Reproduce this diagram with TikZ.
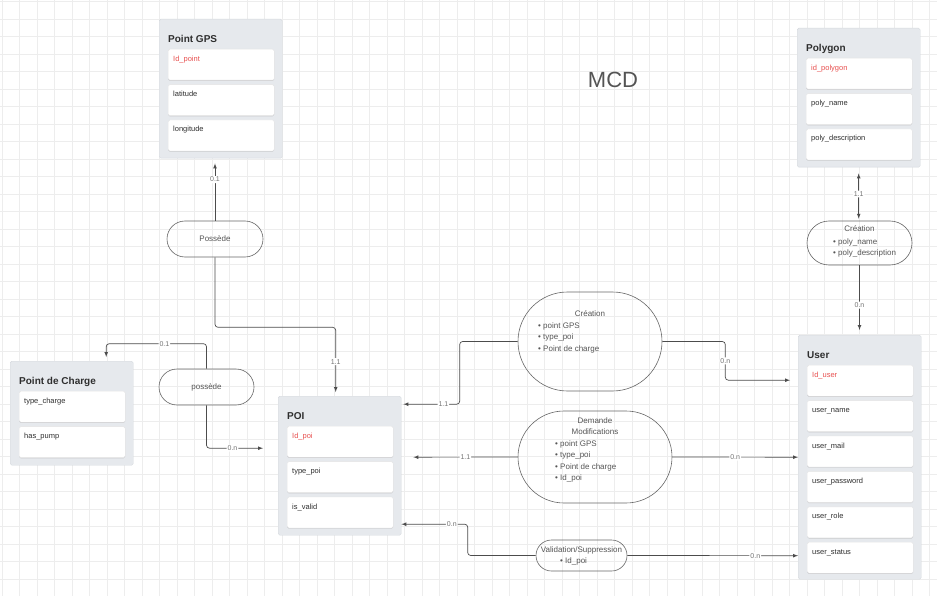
\documentclass[tikz,border=0pt]{standalone}
\usepackage{fontspec}
\setmainfont{Liberation Sans}
\usetikzlibrary{positioning,shapes,arrows,shadows}

\definecolor{entfill}{HTML}{E6E9ED}
\definecolor{entline}{HTML}{D5D9DE}
\definecolor{idred}{HTML}{E8504F}
\definecolor{txtgray}{HTML}{2E2E2E}
\definecolor{relgray}{HTML}{555555}
\definecolor{gridgray}{HTML}{EDEDED}

\begin{document}
\begin{tikzpicture}[x=1pt, y=-1pt,
    entity/.style={
      draw=entline, fill=entfill, rounded corners=0.3ex, inner sep=0pt,
      minimum width=123pt, anchor=north west
    },
    etitle/.style={anchor=base west, inner sep=0pt, text=txtgray,
      font=\fontsize{10}{12}\selectfont\bfseries},
    attr/.style={
      draw=black!10, fill=white, rounded corners=0.3ex, align=left,
      drop shadow={shadow xshift=0pt, shadow yshift=-0.7pt, opacity=0.3, fill=black!50},
      text width=96pt, inner xsep=5pt, inner ysep=6.5pt, text height=5.5pt, text depth=12.5pt,
      text=txtgray, font=\fontsize{7.5}{9}\selectfont
    },
    key/.style={attr, text=idred},
    relation/.style={draw=black!60, line width=0.6pt, inner sep=0pt, text=relgray,
      font=\fontsize{8}{11.5}\selectfont},
    rtext/.style={inner sep=0pt, anchor=base, text=relgray, font=\fontsize{8}{11.5}\selectfont},
    rlist/.style={rtext, anchor=base west},
    lbl/.style={fill=white, inner sep=1pt, text=black!55, font=\fontsize{7}{8}\selectfont},
    link/.style={draw=black!70, line width=0.7pt, rounded corners=3pt},
    gridline/.style={draw=gridgray, line width=1.2pt},
  ]
    % page and grid
    \useasboundingbox (0,0) rectangle (937,596);
    \fill[white] (0,0) rectangle (937,596);
    \foreach \i in {0,...,53} \draw[gridline] ({2.3+17.5*\i},0) -- ++(0,596);
    \foreach \j in {0,...,33} \draw[gridline] (0,{1.7+17.5*\j}) -- ++(937,0);

    \node[font=\fontsize{22}{26}\selectfont, text=black!67] (mcd) at (613,80) {MCD};

    % entities
    \node[entity, minimum height=139pt] (gps) at (159,19) {};
    \node[etitle] (gps_title) at ([shift={(9pt,-23.6pt)}]gps.north west) {Point GPS};
    \node[key, anchor=north west] (gps_id) at ([shift={(9pt,-30pt)}]gps.north west) {Id\_point};
    \node[attr, below=4pt of gps_id] (gps_lat) {latitude};
    \node[attr, below=4pt of gps_lat] (gps_lon) {longitude};

    \node[entity, minimum height=139pt] (poly) at (797,28) {};
    \node[etitle] (poly_title) at ([shift={(9pt,-23.6pt)}]poly.north west) {Polygon};
    \node[key, anchor=north west] (poly_id) at ([shift={(9pt,-30pt)}]poly.north west) {id\_polygon};
    \node[attr, below=4pt of poly_id] (poly_name) {poly\_name};
    \node[attr, below=4pt of poly_name] (poly_desc) {poly\_description};

    \node[entity, minimum height=104pt] (pdc) at (10,361) {};
    \node[etitle] (pdc_title) at ([shift={(9pt,-23.6pt)}]pdc.north west) {Point de Charge};
    \node[attr, anchor=north west] (pdc_type) at ([shift={(9pt,-30pt)}]pdc.north west) {type\_charge};
    \node[attr, below=4pt of pdc_type] (pdc_pump) {has\_pump};

    \node[entity, minimum height=139pt] (poi) at (278,396) {};
    \node[etitle] (poi_title) at ([shift={(9pt,-23.6pt)}]poi.north west) {POI};
    \node[key, anchor=north west] (poi_id) at ([shift={(9pt,-30pt)}]poi.north west) {Id\_poi};
    \node[attr, below=4pt of poi_id] (poi_type) {type\_poi};
    \node[attr, below=4pt of poi_type] (poi_valid) {is\_valid};

    \node[entity, minimum height=244pt] (user) at (798,335) {};
    \node[etitle] (user_title) at ([shift={(9pt,-23.6pt)}]user.north west) {User};
    \node[key, anchor=north west] (user_id) at ([shift={(9pt,-30pt)}]user.north west) {Id\_user};
    \node[attr, below=4pt of user_id] (user_name) {user\_name};
    \node[attr, below=4pt of user_name] (user_mail) {user\_mail};
    \node[attr, below=4pt of user_mail] (user_pass) {user\_password};
    \node[attr, below=4pt of user_pass] (user_role) {user\_role};
    \node[attr, below=4pt of user_role] (user_status) {user\_status};

    % relations
    \node[relation, minimum width=96pt, minimum height=36pt, rounded corners=18pt] (possede_gps) at (215,239) {Possède};
    \node[relation, minimum width=95pt, minimum height=36pt, rounded corners=18pt] (possede_pdc) at (206.5,387) {possède};

    \node[relation, minimum width=144pt, minimum height=99pt, rounded corners=49.5pt] (cre_poi) at (590,341.5) {};
    \node[rtext] (cre_poi_title) at (590,316) {Création};
    \node[rlist] (cre_poi_list) at (538,328) {%
      \begin{tabular}[t]{@{}l@{}}• point GPS\\ • type\_poi\\ • Point de charge\end{tabular}};

    \node[relation, minimum width=154pt, minimum height=92pt, rounded corners=46pt] (dem_poi) at (595,457) {};
    \node[rtext] (dem_poi_title) at (595,423) {%
      \begin{tabular}[t]{@{}c@{}}Demande\\ Modifications\end{tabular}};
    \node[rlist] (dem_poi_list) at (555,446) {%
      \begin{tabular}[t]{@{}l@{}}• point GPS\\ • type\_poi\\ • Point de charge\\ • Id\_poi\end{tabular}};

    \node[relation, minimum width=91pt, minimum height=31pt, rounded corners=15.5pt] (val_poi) at (581.5,555.5) {};
    \node[rtext] (val_poi_title) at (581.5,552) {Validation/Suppression};
    \node[rlist] (val_poi_list) at (560,563) {• Id\_poi};

    \node[relation, minimum width=105pt, minimum height=44pt, rounded corners=22pt] (cre_poly) at (859.5,243) {};
    \node[rtext] (cre_poly_title) at (859.5,232) {Création};
    \node[rlist] (cre_poly_list) at (833,244) {%
      \begin{tabular}[t]{@{}l@{}}• poly\_name\\ • poly\_description\end{tabular}};

    % links
    \draw[link, -latex, shorten >=5pt] (possede_gps.north) -- (possede_gps.north |- gps.south) node[lbl, pos=0.66]{0.1};
    \draw[link, -latex, shorten >=4pt] (possede_gps.south) -- ++(0,70) -| ([xshift=-4pt]poi.north) node[lbl, pos=0.75]{1.1};
    \draw[link, -latex, shorten >=4pt] (possede_pdc.north) -- ++(0,-25) -| ([xshift=34.5pt]pdc.north) node[lbl, pos=0.21]{0.1};
    \draw[link, -latex] (possede_pdc.south) |- ([xshift=-15pt,yshift=17.5pt]poi.west) node[lbl, pos=0.73]{0.n};

    \draw[link, -latex, shorten >=2pt] (cre_poi.west) -- ++(-58,0) |- ([yshift=61.5pt]poi.east) node[lbl, pos=0.64]{1.1};
    \draw[link, -latex, shorten >=8pt] (cre_poi.east) -- ++(63,0) |- ([yshift=77pt]user.west) node[lbl, pos=0.25]{0.n};
    \draw[link, -latex, shorten >=12pt] (dem_poi.west) -- ([yshift=8.5pt]poi.east) node[lbl, pos=0.45]{1.1};
    \draw[link, -latex] (dem_poi.east) -- (user.west) node[lbl, pos=0.5]{0.n};
    \draw[link, -latex] (val_poi.west) -- ++(-68,0) |- ([yshift=-58.5pt]poi.east) node[lbl, pos=0.62]{0.n};
    \draw[link, -latex] (val_poi.east) -- ([yshift=-98.5pt]user.west) node[lbl, pos=0.75]{0.n};

    \draw[link, latex-latex, shorten <=6pt, shorten >=2pt] (poly.south) -- (poly.south |- cre_poly.north) node[lbl, pos=0.5]{1.1};
    \draw[link, -latex, shorten >=5pt] (cre_poly.south) -- (cre_poly.south |- user.north) node[lbl, pos=0.57]{0.n};
\end{tikzpicture}
\end{document}
